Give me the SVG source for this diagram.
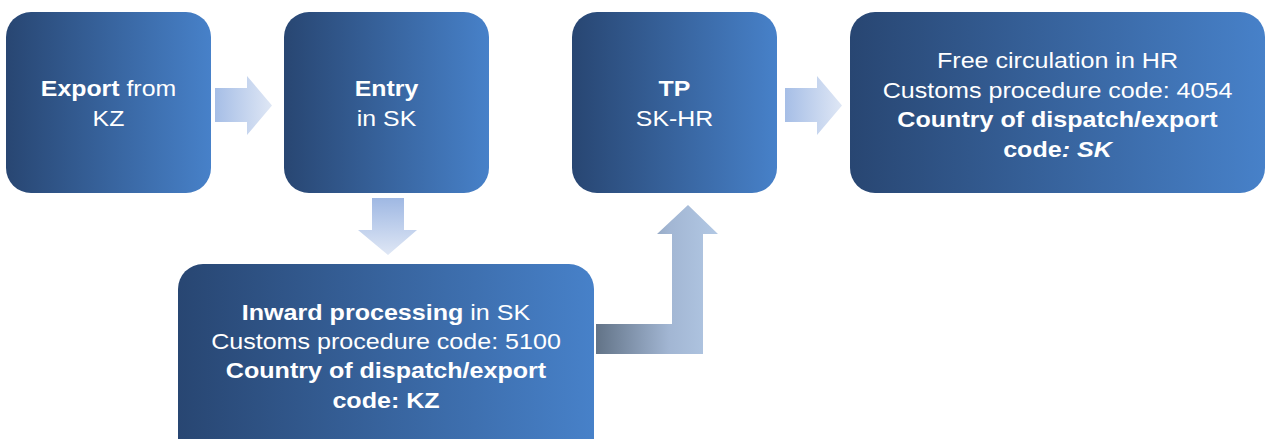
<svg xmlns="http://www.w3.org/2000/svg" width="1265" height="439" viewBox="0 0 1265 439">
<defs>
<linearGradient id="box" x1="0" y1="0" x2="1" y2="0">
<stop offset="0" stop-color="#284672"/>
<stop offset="1" stop-color="#4781c9"/>
</linearGradient>
<linearGradient id="arrR" x1="0" y1="0" x2="1" y2="0">
<stop offset="0" stop-color="#a6bee6"/>
<stop offset="1" stop-color="#dfe7f5"/>
</linearGradient>
<linearGradient id="arrD" x1="0" y1="0" x2="0" y2="1">
<stop offset="0" stop-color="#9fb8e3"/>
<stop offset="1" stop-color="#dfe7f5"/>
</linearGradient>
<linearGradient id="arrL" gradientUnits="userSpaceOnUse" x1="596" y1="0" x2="718" y2="0">
<stop offset="0" stop-color="#627387"/>
<stop offset="0.6" stop-color="#a2b6d3"/>
<stop offset="1" stop-color="#b2c8e4"/>
</linearGradient>
</defs>
<style>
.box{fill:url(#box)}
text{font-family:"Liberation Sans",Arial,sans-serif;font-size:22px;fill:#ffffff;text-anchor:middle}
.b{font-weight:bold}
.bi{font-weight:bold;font-style:italic}
</style>
<rect width="1265" height="439" fill="#ffffff"/>
<g id="connectors">
<polygon fill="url(#arrR)" points="215,88 247,88 247,76 272,105.5 247,135 247,122 215,122"/>
<polygon fill="url(#arrR)" points="785,88 817,88 817,76 842,105.5 817,135 817,122 785,122"/>
<polygon fill="url(#arrD)" points="372,198 404,198 404,230 417,230 388,255 358,230 372,230"/>
<polygon fill="url(#arrL)" points="596,324 672,324 672,234 657,234 688,205 718,234 703,234 703,354 596,354"/>
</g>
<g id="node-export">
<rect class="box" x="6" y="12" width="205" height="181" rx="25"/>
<g transform="translate(108.5 0) scale(1.13 1)">
<text x="0" y="96"><tspan class="b">Export</tspan> from</text>
<text x="0" y="126">KZ</text>
</g>
</g>
<g id="node-entry">
<rect class="box" x="284" y="12" width="205" height="181" rx="25"/>
<g transform="translate(386.5 0) scale(1.13 1)">
<text x="0" y="96" class="b">Entry</text>
<text x="0" y="126">in SK</text>
</g>
</g>
<g id="node-tp">
<rect class="box" x="572" y="12" width="205" height="181" rx="25"/>
<g transform="translate(674.5 0) scale(1.13 1)">
<text x="0" y="96" class="b">TP</text>
<text x="0" y="126">SK-HR</text>
</g>
</g>
<g id="node-free-circulation">
<rect class="box" x="850" y="12" width="415" height="181" rx="25"/>
<g transform="translate(1057.5 0) scale(1.14 1)">
<text x="0" y="68">Free circulation in HR</text>
<text x="0" y="98">Customs procedure code: 4054</text>
<text x="0" y="127" class="b">Country of dispatch/export</text>
<text x="0" y="157" class="b">code<tspan class="bi">: SK</tspan></text>
</g>
</g>
<g id="node-inward-processing">
<rect class="box" x="178" y="264" width="416" height="200" rx="25"/>
<g transform="translate(386 0) scale(1.14 1)">
<text x="0" y="320"><tspan class="b">Inward processing</tspan> in SK</text>
<text x="0" y="349">Customs procedure code: 5100</text>
<text x="0" y="378" class="b">Country of dispatch/export</text>
<text x="0" y="408" class="b">code: KZ</text>
</g>
</g>
</svg>
